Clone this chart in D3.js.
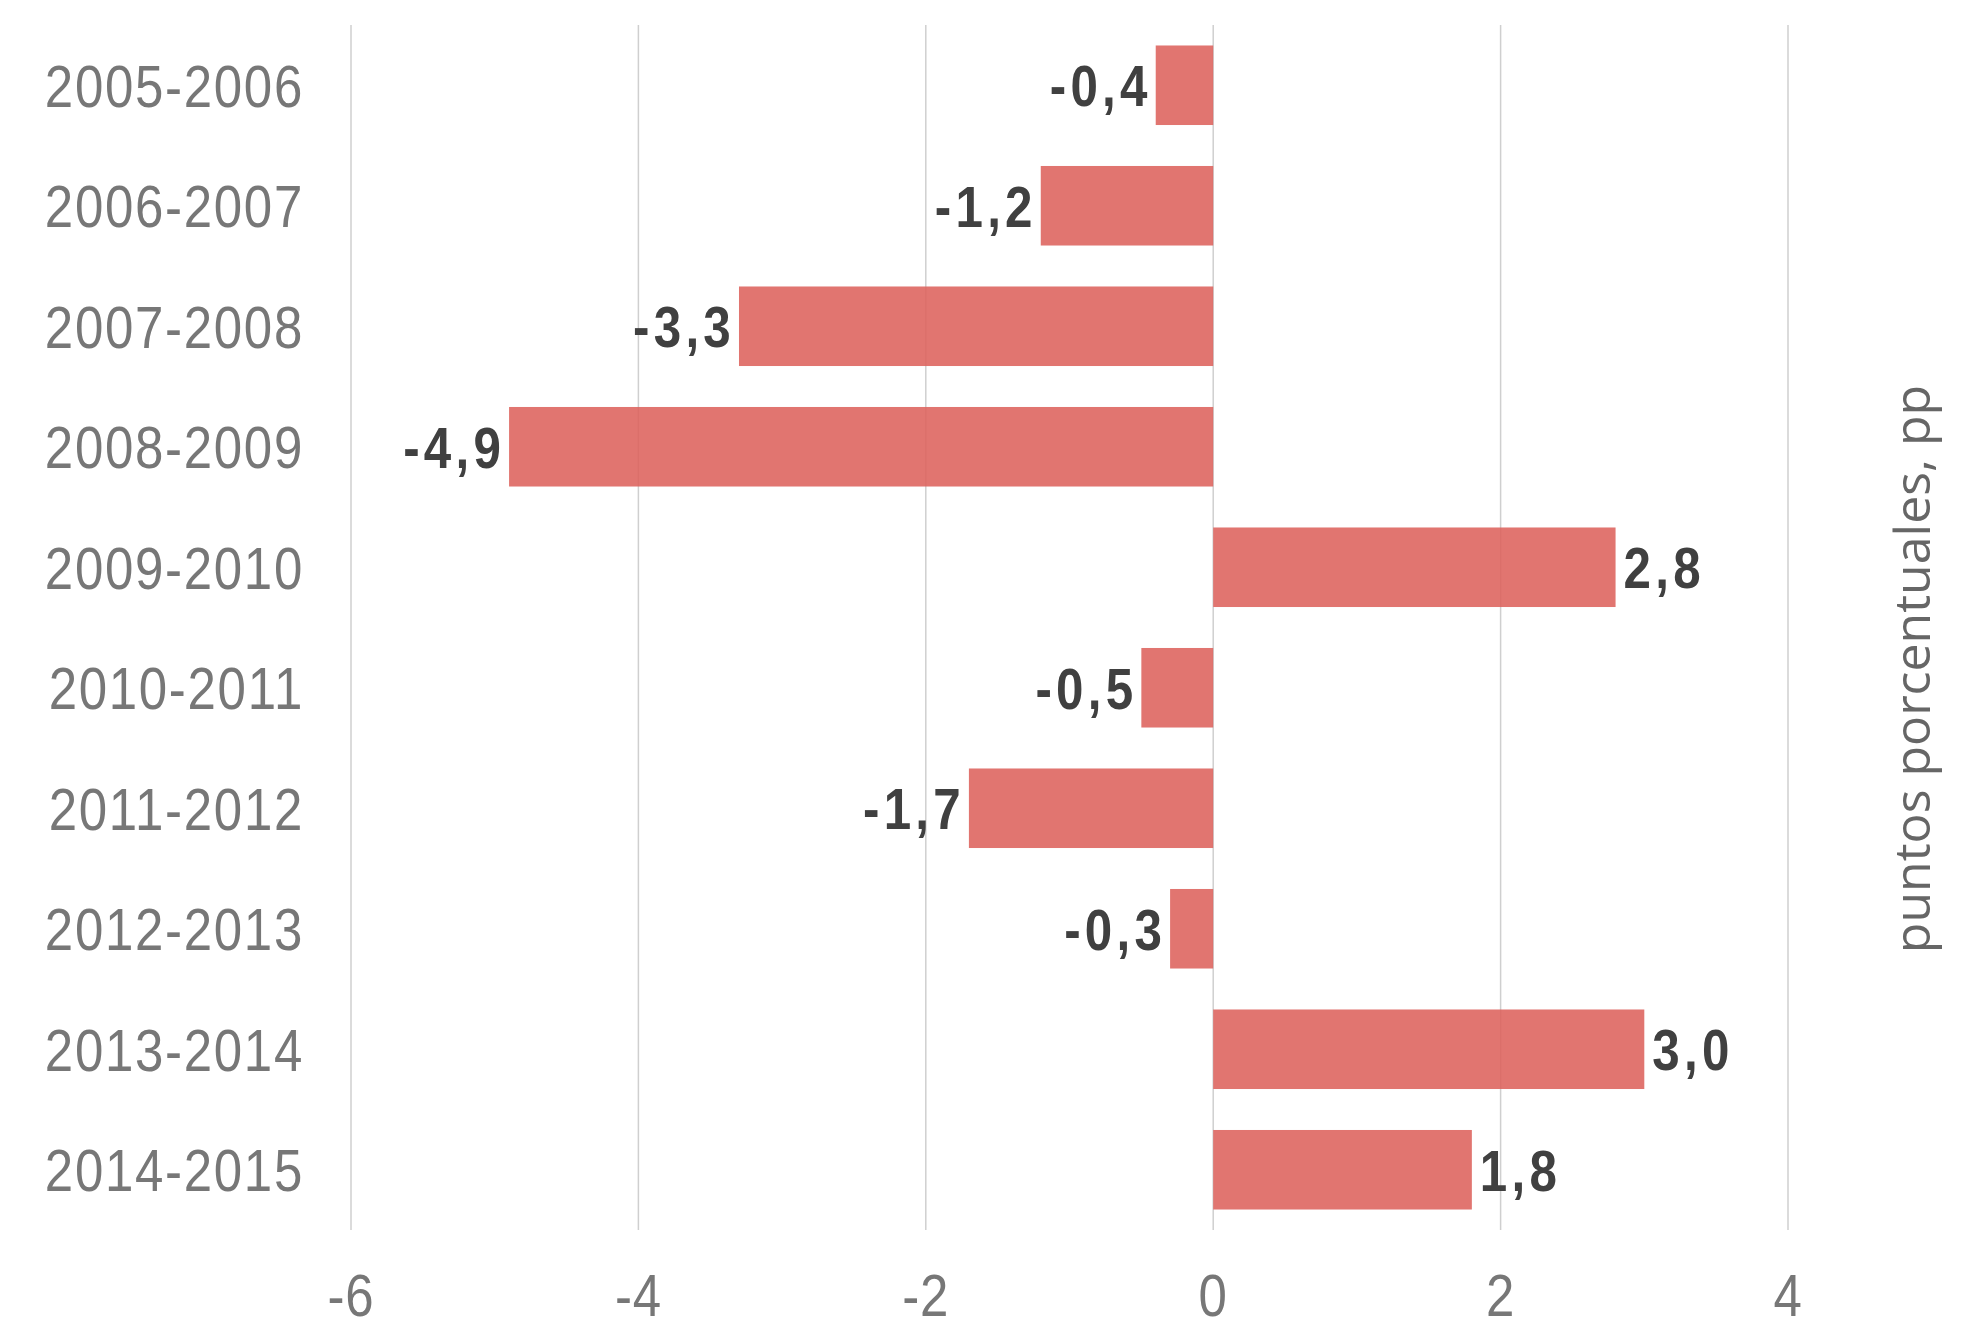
<!DOCTYPE html>
<html>
  <head>
    <meta charset="utf-8">
    <script type="text/javascript" src="https://cdn.jsdelivr.net/npm/d3@7"></script>
    <style type="text/css">

html, body {
  margin: 0;
  background: #fff;
}

svg {
  display: block;
}

.cat {
  font: 60px "Liberation Sans", Arial, sans-serif;
  letter-spacing: 2px;
  fill: #777;
}

.val {
  font: bold 58px "Liberation Sans", Arial, sans-serif;
  letter-spacing: 5px;
  fill: #404040;
}

.tick {
  font: 60px "Liberation Sans", Arial, sans-serif;
  letter-spacing: 1px;
  fill: #777;
}

.title {
  font: 50px "Open Sans", sans-serif;
  fill: #666;
}

    </style>
  </head>
  <body>
    <div id="chart"></div>
    <script type="text/javascript">

// periods and change in percentage points
var periods = ["2005-2006", "2006-2007", "2007-2008", "2008-2009", "2009-2010",
               "2010-2011", "2011-2012", "2012-2013", "2013-2014", "2014-2015"];
var change = [-0.4, -1.2, -3.3, -4.9, 2.8, -0.5, -1.7, -0.3, 3.0, 1.8];
var xTicks = [-6, -4, -2, 0, 2, 4];
var yTitle = "puntos porcentuales, pp";

var width = 1988, height = 1332;
var narrow = 0.85; // squeeze text horizontally, the original face is condensed

var svg = d3.select("#chart").append("svg")
    .attr("width", width)
    .attr("height", height);

var x = d3.scaleLinear()
    .domain([-6, 4])
    .range([351, 1788]);

var y = d3.scaleBand()
    .domain(periods)
    .range([25, 1230])
    .paddingInner(0.34)
    .paddingOuter(0.17);

var data = periods.map(function(p, i) { return {period: p, value: change[i]}; });

function mid(d) { return y(d.period) + y.bandwidth() / 2; }

// vertical gridlines behind the bars
svg.append("g").selectAll("line")
    .data(xTicks)
  .enter().append("line")
    .attr("x1", function(d) { return x(d); })
    .attr("x2", function(d) { return x(d); })
    .attr("y1", y.range()[0])
    .attr("y2", y.range()[1])
    .attr("stroke", "#cfcfcf")
    .attr("stroke-width", 1.5);

// bottom tick labels
svg.append("g").selectAll("text")
    .data(xTicks)
  .enter().append("text")
    .attr("class", "tick")
    .attr("transform", function(d) { return "translate(" + x(d) + ",1316) scale(" + narrow + ",1)"; })
    .attr("text-anchor", "middle")
    .text(function(d) { return d; });

// bars
svg.append("g").selectAll("rect")
    .data(data)
  .enter().append("rect")
    .attr("x", function(d) { return x(Math.min(0, d.value)); })
    .attr("y", function(d) { return y(d.period); })
    .attr("width", function(d) { return Math.abs(x(d.value) - x(0)); })
    .attr("height", y.bandwidth())
    .attr("fill", "#dd625c")
    .attr("fill-opacity", 0.88);

// category labels on the left
svg.append("g").selectAll("text")
    .data(data)
  .enter().append("text")
    .attr("class", "cat")
    .attr("transform", function(d) { return "translate(304," + mid(d) + ") scale(" + narrow + ",1)"; })
    .attr("dy", "0.36em")
    .attr("text-anchor", "end")
    .text(function(d) { return d.period; });

// value labels at the bar ends
svg.append("g").selectAll("text")
    .data(data)
  .enter().append("text")
    .attr("class", "val")
    .attr("transform", function(d) {
      var px = d.value < 0 ? x(d.value) - 4 : x(d.value) + 8;
      return "translate(" + px + "," + mid(d) + ") scale(" + narrow + ",1)";
    })
    .attr("dy", "0.36em")
    .attr("text-anchor", function(d) { return d.value < 0 ? "end" : "start"; })
    .text(function(d) { return d.value.toFixed(1).replace(".", ","); });

// axis title, right side
svg.append("text")
    .attr("class", "title")
    .attr("transform", "translate(1930,669) rotate(-90)")
    .attr("text-anchor", "middle")
    .text(yTitle);

    </script>
  </body>
</html>
